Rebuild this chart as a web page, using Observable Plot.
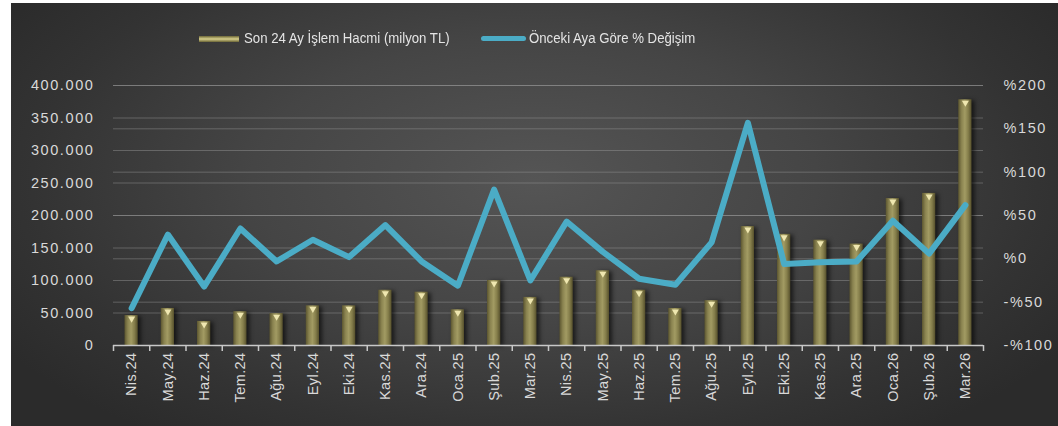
<!DOCTYPE html>
<html>
<head>
<meta charset="utf-8">
<script src="https://cdn.jsdelivr.net/npm/d3@7"></script>
<script src="https://cdn.jsdelivr.net/npm/@observablehq/plot@0.6"></script>
<style>
  html, body { margin: 0; padding: 0; background: #ffffff; overflow: hidden; }
  #chart {
    position: absolute; left: 11px; top: 3px; width: 1047px; height: 423px;
    background: radial-gradient(ellipse 60% 75% at 50% 42%, #555555 0%, #454545 45%, #333333 80%, #2b2b2b 100%);
    font-family: "Liberation Sans", "DejaVu Sans", sans-serif;
    overflow: hidden;
  }
  #legend { position: relative; height: 60px; color: #e4e4e4; font-size: 15px; }
  #legend .sw1 { position: absolute; left: 188px; top: 33px; width: 40px; height: 6px;
    background: linear-gradient(180deg, #6b6536 0%, #d8d08c 50%, #6b6536 100%); }
  #legend .sw2 { position: absolute; left: 470px; top: 33px; width: 45px; height: 5px; border-radius: 3px; background: #4bacc6; }
  #legend .t { position: absolute; top: 26px; white-space: nowrap; transform: scaleX(0.88); transform-origin: 0 50%; }
  #chart svg { display: block; }
  #chart svg g.yax text { letter-spacing: 1.6px; }
  #chart svg g.xax text { letter-spacing: 0.4px; }
  .bars { filter: drop-shadow(3px 1px 2px rgba(0,0,0,0.6)); }
</style>
</head>
<body>
<div id="chart">
  <div id="legend">
    <div class="sw1"></div><div class="t" id="l1" style="left:233px"></div>
    <div class="sw2"></div><div class="t" id="l2" style="left:518px"></div>
  </div>
</div>
<script>
const seriesBar = "Son 24 Ay İşlem Hacmi (milyon TL)";
const seriesLine = "Önceki Aya Göre % Değişim";
const months = ["Nis.24","May.24","Haz.24","Tem.24","Ağu.24","Eyl.24","Eki.24","Kas.24","Ara.24","Oca.25","Şub.25","Mar.25","Nis.25","May.25","Haz.25","Tem.25","Ağu.25","Eyl.25","Eki.25","Kas.25","Ara.25","Oca.26","Şub.26","Mar.26"];
const volume = [46000,57000,37000,52000,49000,61000,61000,85000,82000,55000,100000,74000,105000,115000,85000,57000,69000,183000,171000,162000,156000,226000,234000,378000];
const pctChange = [-57,28,-32,35,-3,22,2,39,-3,-31,80,-25,43,8,-23,-30,19,157,-6,-4,-3,44,6,62];
const leftTicks = [0,50000,100000,150000,200000,250000,300000,350000,400000];
const rightTicks = [-100,-50,0,50,100,150,200];

document.getElementById("l1").textContent = seriesBar;
document.getElementById("l2").textContent = seriesLine;

// secondary axis mapping: -100..200 % onto 0..400000
const toLeft = p => (p + 100) * 400000 / 300;
const fromLeft = v => Math.round(v * 300 / 400000 - 100);

const trLocale = d3.formatLocale({decimal: ",", thousands: ".", grouping: [3], currency: ["", ""]});
const fmtNum = trLocale.format(",d");
const fmtPct = p => (p < 0 ? "-%" + Math.abs(p) : "%" + p);

const data = months.map((m, i) => ({i, month: m, vol: volume[i], pct: pctChange[i]}));
const centers = d3.range(months.length).map(i => i + 0.5);
const bounds = d3.range(months.length + 1);

const gridColor = "#9a9a9a";
const textColor = "#d9d9d9";

const plot = Plot.plot({
  width: 1047,
  height: 363,
  marginTop: 22,
  marginBottom: 81,
  marginLeft: 102,
  marginRight: 75,
  style: {background: "transparent", fontFamily: "'Liberation Sans', 'DejaVu Sans', sans-serif", fontSize: "14.5px", color: textColor},
  x: {type: "linear", domain: [0, months.length], axis: null},
  y: {domain: [0, 400000], axis: null},
  marks: [
    Plot.gridY(leftTicks, {stroke: gridColor, strokeOpacity: 0.45}),
    Plot.gridY(rightTicks.map(toLeft), {stroke: gridColor, strokeOpacity: 0.45}),
    Plot.axisY(leftTicks, {anchor: "left", tickSize: 0, tickPadding: 19, tickFormat: fmtNum, fill: textColor, label: null, className: "yax"}),
    Plot.axisY(rightTicks.map(toLeft), {anchor: "right", tickSize: 0, tickPadding: 20, tickFormat: v => fmtPct(fromLeft(v)), fill: textColor, label: null, className: "yax"}),
    Plot.rectY(data, {x1: "i", x2: d => d.i + 1, y: "vol", insetLeft: 11.5, insetRight: 11.5, fill: "url(#barGrad)", className: "bars"}),
    Plot.dot(data, {x: d => d.i + 0.5, y: "vol", symbol: "triangle", rotate: 180, r: 2.6, dy: 3, fill: "#efe7b0", stroke: "none"}),
    Plot.ruleY([0], {stroke: "#c8c8c8", strokeWidth: 1.5}),
    Plot.axisX(bounds, {anchor: "bottom", tickSize: 6, tickFormat: () => "", stroke: "#c8c8c8", strokeWidth: 1.5, label: null}),
    Plot.axisX(centers, {anchor: "bottom", tickSize: 0, tickPadding: 7, tickRotate: -90, tickFormat: v => months[Math.floor(v)], fill: textColor, label: null, className: "xax"}),
    Plot.line(data, {x: d => d.i + 0.5, y: d => toLeft(d.pct), stroke: "#4bacc6", strokeWidth: 6, strokeLinejoin: "round", strokeLinecap: "round"})
  ]
});

d3.select(plot).insert("defs", ":first-child").html(`
  <linearGradient id="barGrad" x1="0" x2="1" y1="0" y2="0">
    <stop offset="0" stop-color="#5c5630"/>
    <stop offset="0.25" stop-color="#8a8350"/>
    <stop offset="0.5" stop-color="#a29b63"/>
    <stop offset="0.75" stop-color="#857e4b"/>
    <stop offset="1" stop-color="#56502c"/>
  </linearGradient>`);

document.getElementById("chart").appendChild(plot);
</script>
</body>
</html>
